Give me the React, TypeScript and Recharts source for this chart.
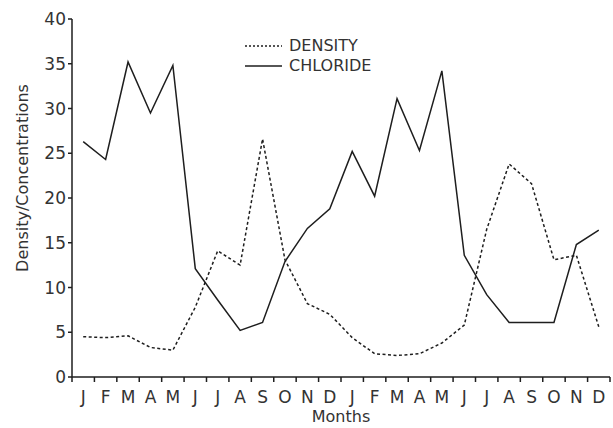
import React from 'react';
import { LineChart, Line, XAxis, YAxis } from 'recharts';

const months = ['J','F','M','A','M','J','J','A','S','O','N','D','J','F','M','A','M','J','J','A','S','O','N','D'];
const density = [4.5, 4.4, 4.6, 3.3, 3.0, 7.8, 14.1, 12.5, 26.6, 13.1, 8.2, 7.0, 4.4, 2.6, 2.4, 2.6, 3.8, 5.8, 16.5, 23.8, 21.6, 13.1, 13.6, 5.6];
const chloride = [26.3, 24.3, 35.2, 29.5, 34.8, 12.1, 8.6, 5.2, 6.1, 12.9, 16.6, 18.8, 25.2, 20.2, 31.1, 25.3, 34.2, 13.6, 9.2, 6.1, 6.1, 6.1, 14.8, 16.4];
const yTicks = [0, 5, 10, 15, 20, 25, 30, 35, 40];
const seriesNames = ['DENSITY', 'CHLORIDE'];

const data = months.map((m, i) => ({ x: i + 0.5, m, density: density[i], chloride: chloride[i] }));
const xTicks = Array.from({ length: months.length + 1 }, (_, i) => i);

const FONT = '"DejaVu Sans", sans-serif';
const TEXT = '#333';
const INK = '#1e1e1e';

const MonthTick = (props: any) => {
  const { x, y, payload, width } = props;
  const w = typeof width === 'number' && width > 0 ? width : 538;
  const half = w / months.length / 2;
  const i = payload.value;
  if (i >= months.length) return null;
  return (
    <text x={x + half} y={y} dy="0.71em" textAnchor="middle" fontFamily={FONT} fontSize={17} fill={TEXT}>
      {months[i]}
    </text>
  );
};

const LegendBox = () => (
  <div style={{ position: 'absolute', left: 245, top: 36, fontFamily: FONT, fontSize: 16, color: TEXT, lineHeight: '20px' }}>
    {seriesNames.map((name, k) => (
      <div key={name} style={{ display: 'flex', alignItems: 'center', height: 20 }}>
        <svg width={37} height={10} style={{ marginRight: 7 }}>
          <line x1={0} y1={5} x2={37} y2={5} stroke={INK} strokeWidth={1.4} strokeDasharray={k === 0 ? '2 2' : undefined} />
        </svg>
        <span>{name}</span>
      </div>
    ))}
  </div>
);

const YLabel = (props: any) => {
  const vb = props.viewBox || {};
  const cy = (vb.y ?? 19) + (vb.height ?? 358) / 2 - 20;
  return (
    <text x={22} y={cy} transform={`rotate(-90, 22, ${cy})`} textAnchor="middle" dominantBaseline="central" fontFamily={FONT} fontSize={16} fill={TEXT}>
      Density/Concentrations
    </text>
  );
};

export default function App() {
  return (
    <div style={{ position: 'absolute', left: 0, top: 0, width: 613, height: 428, background: '#fff' }}>
      <LineChart width={613} height={428} data={data} margin={{ top: 19, right: 3, bottom: 0, left: 0 }}>
        <XAxis
          dataKey="x"
          type="number"
          domain={[0, months.length]}
          ticks={xTicks}
          interval={0}
          tick={<MonthTick />}
          tickSize={5}
          tickMargin={9}
          height={51}
          stroke={INK}
          strokeWidth={1.5}
          label={{ value: 'Months', position: 'insideBottom', offset: 6, fontFamily: FONT, fontSize: 16, fill: TEXT }}
        />
        <YAxis
          type="number"
          domain={[0, 40]}
          ticks={yTicks}
          interval={0}
          width={72}
          tickSize={4}
          tickMargin={2}
          stroke={INK}
          strokeWidth={1.5}
          tick={{ fontFamily: FONT, fontSize: 17, fill: TEXT }}
          label={<YLabel />}
        />
        <Line
          type="linear"
          dataKey="density"
          name={seriesNames[0]}
          stroke={INK}
          strokeWidth={1.5}
          strokeDasharray="3 2.5"
          dot={false}
          isAnimationActive={false}
        />
        <Line
          type="linear"
          dataKey="chloride"
          name={seriesNames[1]}
          stroke={INK}
          strokeWidth={1.5}
          dot={false}
          isAnimationActive={false}
        />
      </LineChart>
      <LegendBox />
    </div>
  );
}
